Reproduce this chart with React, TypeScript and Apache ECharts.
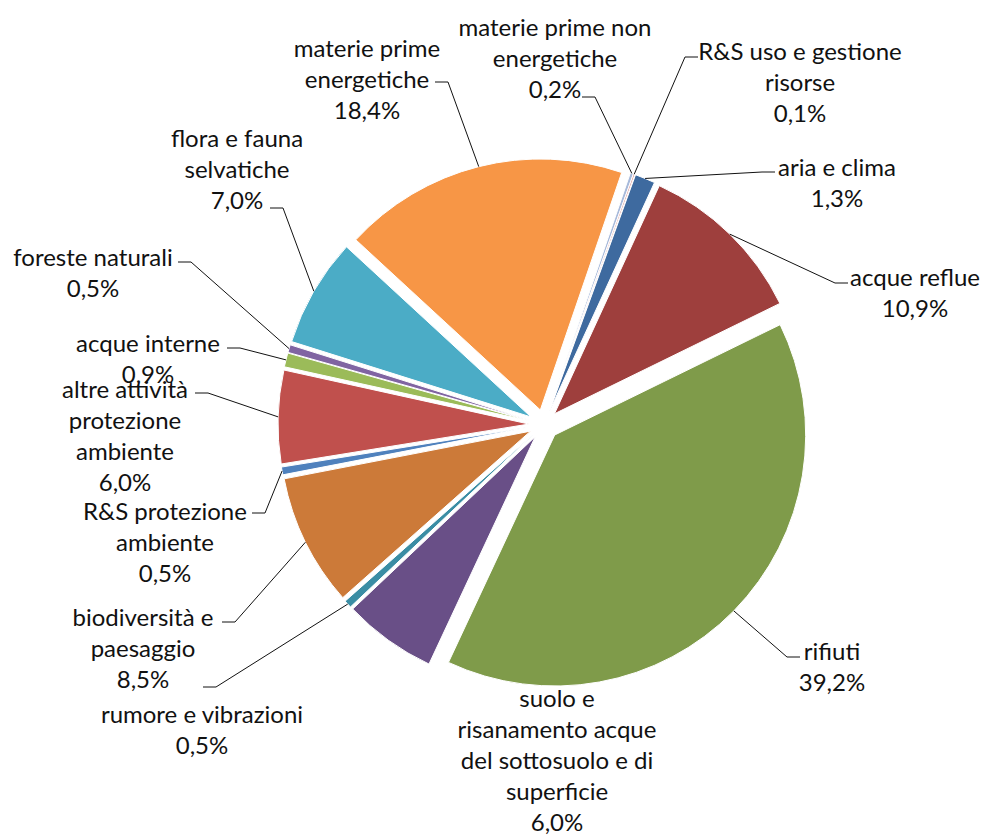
import React, { useEffect, useRef } from 'react';
import * as echarts from 'echarts';

// ---- data (clockwise, starting from "aria e clima") ----
const categories: string[] = [
  'aria e clima',
  'acque reflue',
  'rifiuti',
  'suolo e risanamento acque del sottosuolo e di superficie',
  'rumore e vibrazioni',
  'biodiversità e paesaggio',
  'R&S protezione ambiente',
  'altre attività protezione ambiente',
  'acque interne',
  'foreste naturali',
  'flora e fauna selvatiche',
  'materie prime energetiche',
  'materie prime non energetiche',
  'R&S uso e gestione risorse',
];

const shares: number[] = [1.3, 10.9, 39.2, 6.0, 0.5, 8.5, 0.5, 6.0, 0.9, 0.5, 7.0, 18.4, 0.2, 0.1];

// label texts as wrapped in the original
const wrappedNames: string[] = [
  'aria e clima',
  'acque reflue',
  'rifiuti',
  'suolo e\nrisanamento acque\ndel sottosuolo e di\nsuperficie',
  'rumore e vibrazioni',
  'biodiversità e\npaesaggio',
  'R&S protezione\nambiente',
  'altre attività\nprotezione\nambiente',
  'acque interne',
  'foreste naturali',
  'flora e fauna\nselvatiche',
  'materie prime\nenergetiche',
  'materie prime non\nenergetiche',
  'R&S uso e gestione\nrisorse',
];

// ---- styles / layout ----
const colors: string[] = [
  '#3E6A9F', '#9E3F3D', '#7F9B4A', '#694F87', '#3A8DA4', '#CC7A39',
  '#4F81BD', '#C0504D', '#9BBB59', '#8064A2', '#4BACC6', '#F79646',
  '#A7B9DA', '#D99694',
];

// [label centre x, label centre y, leader tick x, leader tick y]
const labelPlacement: (number | null)[][] = [
  [837, 182, 775, 172],
  [915, 292, 848, 283],
  [832, 666, 800, 657],
  [557, 759, null, null],
  [202, 729, 203, 687],
  [143, 647, 222, 622],
  [165, 541, 252, 513],
  [125, 435, 195, 393],
  [148, 358, 227, 348],
  [93, 272, 178, 262],
  [237, 168, 270, 208],
  [367, 78, 435, 82],
  [555, 57, 582, 97],
  [800, 81, 698, 57],
];

const CX = 544;
const CY = 424.5;
const R = 251;
const EXPLODE = 15;
const START_ANGLE = 70; // echarts degrees (90 = 12 o'clock)
const FONT = 'Lato, Carlito, Calibri, sans-serif';
const FONT_SIZE = 24;
const LINE_H = 31;

const fmtPct = (v: number) => v.toFixed(1).replace('.', ',') + '%';

export default function App() {
  const ref = useRef<HTMLDivElement>(null);

  useEffect(() => {
    if (!ref.current) return;
    const chart = echarts.init(ref.current, undefined, { renderer: 'svg' });

    const total = shares.reduce((a, b) => a + b, 0);
    const fromNorth = 90 - START_ANGLE;
    let cum = 0;
    const graphics: any[] = [];
    shares.forEach((v, i) => {
      const mid = ((fromNorth + ((cum + v / 2) / total) * 360) * Math.PI) / 180;
      cum += v;
      const ux = Math.sin(mid);
      const uy = -Math.cos(mid);
      const ax = CX + (EXPLODE + R) * ux;
      const ay = CY + (EXPLODE + R) * uy;
      const [lx, ly, tx, ty] = labelPlacement[i];
      graphics.push({
        type: 'text',
        x: lx,
        y: ly,
        z: 20,
        style: {
          text: wrappedNames[i] + '\n' + fmtPct(v),
          fill: '#111',
          fontSize: FONT_SIZE,
          fontFamily: FONT,
          lineHeight: LINE_H,
          align: 'center',
          textAlign: 'center',
          verticalAlign: 'middle',
          textVerticalAlign: 'middle',
        },
      });
      if (tx != null && ty != null) {
        const dir = ax > (tx as number) ? 1 : -1;
        const ex = (tx as number) + dir * 13;
        graphics.push({
          type: 'polyline',
          z: 20,
          shape: { points: [[ax, ay], [ex, ty], [tx, ty]] },
          style: { stroke: '#111', lineWidth: 1, fill: null },
        });
      }
    });

    chart.setOption({
      animation: false,
      backgroundColor: '#ffffff',
      graphic: graphics,
      series: [
        {
          type: 'pie',
          center: [CX, CY],
          radius: R,
          startAngle: START_ANGLE,
          clockwise: true,
          selectedMode: 'multiple',
          selectedOffset: EXPLODE,
          avoidLabelOverlap: false,
          label: { show: false },
          labelLine: { show: false },
          itemStyle: { borderColor: '#ffffff', borderWidth: 1 },
          select: { itemStyle: { borderColor: '#ffffff', borderWidth: 1 } },
          emphasis: { disabled: true },
          data: categories.map((name, i) => ({
            name,
            value: shares[i],
            selected: true,
            itemStyle: { color: colors[i] },
          })),
        },
      ],
    });

    return () => chart.dispose();
  }, []);

  return (
    <div
      ref={ref}
      style={{ position: 'absolute', left: 0, top: 0, width: 983, height: 836 }}
    />
  );
}
